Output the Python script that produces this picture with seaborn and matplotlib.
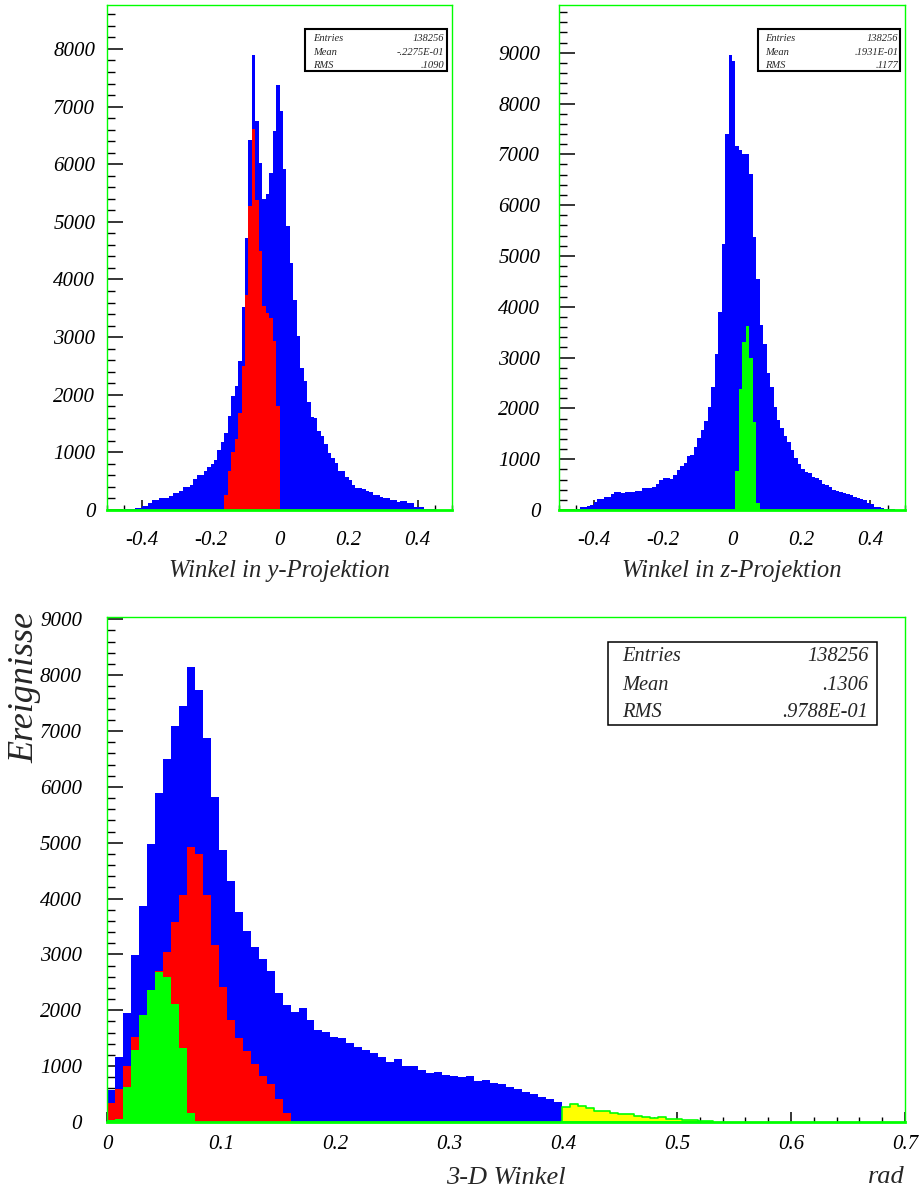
import numpy as np
import pandas as pd
import matplotlib
matplotlib.use("Agg")
import matplotlib.pyplot as plt
import seaborn as sns
from matplotlib.patches import Rectangle
from matplotlib.ticker import MultipleLocator, FixedLocator, FixedFormatter

# ---------------- data (bin contents) ----------------
# top panels: 100 bins from -0.5 to 0.5 ; bottom panel: 100 bins from 0 to 0.7
y_proj_all = [0, 0, 0, 0, 5, 17, 17, 17, 29, 29,
              69, 69, 116, 174, 174, 214, 214, 214, 243, 289,
              289, 336, 394, 394, 434, 532, 608, 608, 677, 741,
              799, 860, 1034, 1180, 1336, 1636, 1972, 2145, 2591, 3523,
              4720, 6426, 7900, 6743, 6021, 5397, 5483, 5848, 6570, 7380,
              6917, 5915, 4932, 4285, 3637, 3024, 2463, 2231, 1867, 1613,
              1600, 1365, 1278, 1146, 984, 897, 810, 683, 683, 579,
              521, 434, 376, 376, 359, 336, 307, 260, 260, 232,
              203, 203, 174, 174, 145, 150, 150, 116, 116, 58,
              58, 58, 17, 17, 17, 0, 0, 0, 0, 0]
y_proj_sel_start = -0.16
y_proj_sel = [265, 682, 1000, 1232, 1683, 2504, 3736, 5268, 6611, 5384,
              4488, 3545, 3418, 3331, 2926, 1810]

z_proj_all = [0, 0, 0, 0, 5, 20, 52, 66, 79, 98,
              164, 217, 217, 262, 262, 308, 360, 360, 328, 348,
              348, 348, 380, 380, 427, 427, 440, 460, 505, 590,
              636, 636, 604, 690, 787, 866, 931, 1063, 1082, 1247,
              1411, 1575, 1758, 2034, 2427, 3063, 3903, 5235, 7394, 8955,
              8843, 7164, 7085, 7006, 7006, 6606, 5367, 4546, 3641, 3267,
              2690, 2427, 2034, 1780, 1617, 1450, 1330, 1180, 1030, 900,
              800, 755, 722, 656, 623, 591, 520, 492, 446, 400,
              381, 361, 340, 315, 300, 262, 240, 217, 190, 131,
              110, 52, 52, 40, 20, 20, 10, 0, 0, 0]
z_proj_sel_start = 0.01
z_proj_sel = [760, 2385, 3300, 3615, 2995, 1730, 138]

w3d_all = [573, 1158, 1959, 2988, 3869, 4978, 5884, 6500, 7092, 7443,
           8151, 7739, 6876, 5823, 4874, 4313, 3765, 3420, 3130, 2914,
           2699, 2311, 2095, 1978, 2033, 1824, 1651, 1620, 1516, 1510,
           1423, 1343, 1282, 1232, 1171, 1078, 1130, 1010, 998, 937,
           882, 898, 840, 822, 806, 825, 730, 749, 690, 685,
           628, 595, 542, 497, 451, 415, 363]
w3d_red = [345, 585, 1004, 1528, 1850, 2300, 2711, 3050, 3580, 4067,
           4917, 4794, 4067, 3161, 2421, 1824, 1510, 1269, 1035, 819,
           678, 407, 154]
w3d_green = [30, 62, 635, 1282, 1910, 2360, 2680, 2594, 2113, 1325, 160]
w3d_yellow_start = 0.399
w3d_yellow = [274, 322, 286, 245, 203, 191, 155, 137, 137, 113,
              95, 72, 84, 48, 60, 30, 30, 24, 12]

stats_y = ("138256", "-.2275E-01", ".1090")
stats_z = ("138256", ".1931E-01", ".1177")
stats_3d = ("138256", ".1306", ".9788E-01")
stat_names = ("Entries", "Mean", "RMS")

top_xticks = [-0.4, -0.2, 0.0, 0.2, 0.4]
top_xlabels = ["-0.4", "-0.2", "0", "0.2", "0.4"]
bot_xticks = [0.0, 0.1, 0.2, 0.3, 0.4, 0.5, 0.6, 0.7]
bot_xlabels = ["0", "0.1", "0.2", "0.3", "0.4", "0.5", "0.6", "0.7"]

BLUE, RED, GREEN, YELLOW = "#0000ff", "#ff0000", "#00ff00", "#ffff00"

# ---------------- style ----------------
sns.set_style("white")
plt.rcParams["font.family"] = ["Liberation Serif", "DejaVu Serif"]
plt.rcParams["font.style"] = "italic"
plt.rcParams["axes.unicode_minus"] = False

W, H = 924, 1192
fig = plt.figure(figsize=(W / 100, H / 100), dpi=100)


def px_axes(x0, y0, x1, y1):
    return fig.add_axes([x0 / W, 1 - y1 / H, (x1 - x0) / W, (y1 - y0) / H])


def draw_hist(ax, lo, width, values, color, edge=None, lw=0.0):
    vals = np.asarray(values, dtype=float)
    edges = lo + width * np.arange(len(vals) + 1)
    centers = 0.5 * (edges[:-1] + edges[1:])
    df = pd.DataFrame({"x": centers, "w": vals})
    sns.histplot(data=df, x="x", weights="w", bins=[float(e) for e in edges],
                 element="step", fill=True, color=color, alpha=1, linewidth=lw,
                 edgecolor=edge if edge else color, ax=ax)


def style_axes(ax, ymax, xticks, xlabels, xminor, ylabpad, xlabpad):
    ax.set_xlabel("")
    ax.set_ylabel("")
    for s in ax.spines.values():
        s.set_color(GREEN)
        s.set_linewidth(1.0)
    ax.spines["bottom"].set_linewidth(2.0)
    ax.set_ylim(0, ymax)
    ax.yaxis.set_major_locator(MultipleLocator(1000))
    ax.yaxis.set_minor_locator(MultipleLocator(200))
    ax.xaxis.set_major_locator(FixedLocator(xticks))
    ax.xaxis.set_major_formatter(FixedFormatter(xlabels))
    ax.xaxis.set_minor_locator(MultipleLocator(xminor))
    ax.tick_params(axis="both", which="both", direction="in", colors="black",
                   bottom=True, left=True, top=False, right=False,
                   labelsize=15)
    ax.tick_params(axis="y", which="major", length=11.5, width=1.1, pad=ylabpad)
    ax.tick_params(axis="y", which="minor", length=6, width=1.0)
    ax.tick_params(axis="x", which="major", length=7.2, width=1.1, pad=xlabpad)
    ax.tick_params(axis="x", which="minor", length=3.6, width=1.0)
    ax.grid(False)
    ax.set_facecolor("white")


def stats_box(ax, box, rows_y, xl, xr, values, fs, lw):
    x0, y0, x1, y1 = box
    ax.add_patch(Rectangle((x0, y0), x1 - x0, y1 - y0, transform=ax.transAxes,
                           facecolor="white", edgecolor="black", linewidth=lw,
                           zorder=5))
    for name, val, yy in zip(stat_names, values, rows_y):
        ax.text(xl, yy, name, transform=ax.transAxes, ha="left", va="center",
                fontsize=fs, zorder=6)
        ax.text(xr, yy, val, transform=ax.transAxes, ha="right", va="center",
                fontsize=fs, zorder=6)


# ---------------- top left: y projection ----------------
ax1 = px_axes(107, 4.7, 452, 510)
draw_hist(ax1, -0.5, 0.01, y_proj_all, BLUE)
draw_hist(ax1, y_proj_sel_start, 0.01, y_proj_sel, RED)
ax1.set_xlim(-0.5, 0.5)
style_axes(ax1, 8768, top_xticks, top_xlabels, 0.05, ylabpad=8.5, xlabpad=15)
stats_box(ax1, (0.574, 0.869, 0.9855, 0.952), (0.934, 0.906, 0.880),
          0.597, 0.977, stats_y, 7.6, 1.5)
fig.text(279.5 / W, 1 - 571 / H, "Winkel in y-Projektion", ha="center",
         va="center", fontsize=17.7)

# ---------------- top right: z projection ----------------
ax2 = px_axes(559, 4.7, 905, 510)
draw_hist(ax2, -0.5, 0.01, z_proj_all, BLUE)
draw_hist(ax2, z_proj_sel_start, 0.01, z_proj_sel, GREEN)
ax2.set_xlim(-0.5, 0.5)
style_axes(ax2, 9945, top_xticks, top_xlabels, 0.05, ylabpad=13.5, xlabpad=15)
stats_box(ax2, (0.575, 0.869, 0.986, 0.952), (0.934, 0.906, 0.880),
          0.597, 0.980, stats_z, 7.6, 1.5)
fig.text(732 / W, 1 - 571 / H, "Winkel in z-Projektion", ha="center",
         va="center", fontsize=17.7)

# ---------------- bottom: 3-D angle ----------------
ax3 = px_axes(107, 616.7, 905, 1122)
draw_hist(ax3, 0.0, 0.007, w3d_all, BLUE)
draw_hist(ax3, 0.0, 0.007, w3d_red, RED)
draw_hist(ax3, 0.0, 0.007, w3d_green, GREEN)
draw_hist(ax3, w3d_yellow_start, 0.007, w3d_yellow, YELLOW, edge=GREEN, lw=1.2)
ax3.set_xlim(0, 0.7)
style_axes(ax3, 9047, bot_xticks, bot_xlabels, 0.02, ylabpad=18, xlabpad=9.5)
stats_box(ax3, (0.628, 0.7857, 0.965, 0.9505), (0.921, 0.863, 0.811),
          0.6458, 0.954, stats_3d, 14.7, 1.1)
fig.text(506 / W, 1 - 1178 / H, "3-D Winkel", ha="center", va="center",
         fontsize=19)
fig.text(905 / W, 1 - 1177 / H, "rad", ha="right", va="center", fontsize=19)
fig.text(25 / W, 1 - 612 / H, "Ereignisse", ha="center", va="top",
         rotation=90, fontsize=26)

fig.savefig("out.png", dpi=100, facecolor="white")
